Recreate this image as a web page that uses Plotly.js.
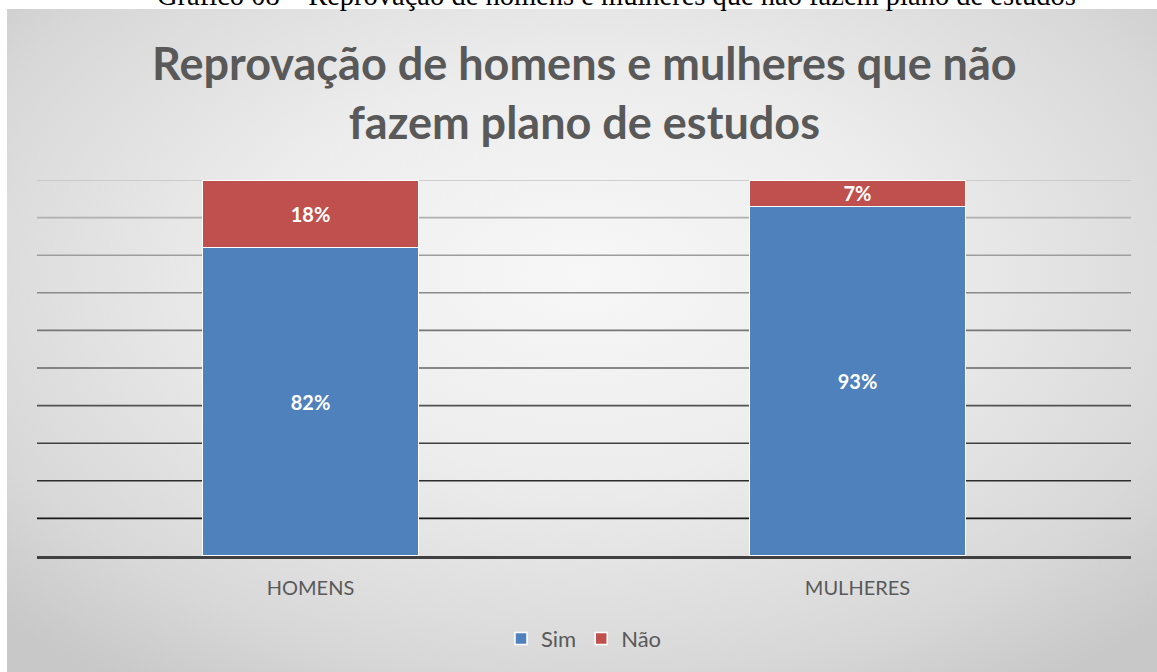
<!DOCTYPE html>
<html><head><meta charset="utf-8">
<script src="https://cdn.plot.ly/plotly-3.0.1.min.js"></script>
<style>
html,body{margin:0;padding:0;background:#fff;overflow:hidden;}
#bg{position:absolute;left:7px;top:9px;width:1150px;height:663px;
background:radial-gradient(ellipse 70% 75% at 50% 40%, #f7f7f7 0%, #ededed 40%, #d8d8d8 80%, #c8c8c8 100%);}
#chart{position:absolute;left:0;top:0;width:1157px;height:672px;}
</style></head>
<body>
<div id="bg"></div>
<div id="chart"></div>
<script>
var categories = ['HOMENS', 'MULHERES'];
var simValues = [82, 93];
var naoValues = [18, 7];
var seriesNames = ['Sim', 'Não'];
var gridValues = [10, 20, 30, 40, 50, 60, 70, 80, 90, 100];
var captionText = 'Gráfico 08 – Reprovação de homens e mulheres que não fazem plano de estudos';
var titleText = 'Reprovação de homens e mulheres que não<br>fazem plano de estudos';

var font = 'Lato, "Open Sans", sans-serif';

function pct(a){ return a.map(function(v){ return v + '%'; }); }

var traces = [
  {type:'bar', name:seriesNames[0], x:categories, y:simValues, text:pct(simValues),
   marker:{color:'#4f81bd', line:{color:'#ffffff', width:1.5}},
   textposition:'inside', insidetextanchor:'middle', textangle:0, constraintext:'none',
   textfont:{color:'#ffffff', size:20, family:font, weight:'bold'}, hoverinfo:'skip'},
  {type:'bar', name:seriesNames[1], x:categories, y:naoValues, text:pct(naoValues),
   marker:{color:'#c0504d', line:{color:'#ffffff', width:1.5}},
   textposition:'inside', insidetextanchor:'middle', textangle:0, constraintext:'none',
   textfont:{color:'#ffffff', size:20, family:font, weight:'bold'}, hoverinfo:'skip'}
];

var shapes = gridValues.map(function(v, i){
  var t = i / (gridValues.length - 1);
  var g = Math.round(25 + t * 170);
  return {type:'line', xref:'paper', yref:'y', x0:0, x1:1, y0:v, y1:v, layer:'below',
          line:{color:'rgb('+g+','+g+','+g+')', width:1.6}};
});

var layout = {
  width:1157, height:672,
  paper_bgcolor:'rgba(0,0,0,0)', plot_bgcolor:'rgba(0,0,0,0)',
  margin:{l:37, r:26, t:180, b:114},
  barmode:'stack', bargap:0.605,
  xaxis:{showgrid:false, showline:true, linecolor:'#404040', linewidth:3, ticks:'',
         ticklabelstandoff:12,
         tickfont:{family:font, size:20, color:'#595959'}, fixedrange:true},
  yaxis:{range:[0,100], showgrid:false, zeroline:false, showticklabels:false, fixedrange:true},
  shapes:shapes,
  showlegend:true,
  legend:{orientation:'h', x:0.5, xanchor:'center', xref:'paper', y:-0.22, yanchor:'middle',
          font:{family:font, size:22, color:'#595959'}, bgcolor:'rgba(0,0,0,0)',
          traceorder:'normal'},
  annotations:[
    {text:titleText, xref:'paper', yref:'paper', x:0.5, y:1.233, xanchor:'center', yanchor:'middle',
     showarrow:false, font:{family:font, size:45, color:'#595959', weight:'bold'}},
    {text:captionText, xref:'paper', yref:'paper', x:0.530, y:1.443, xanchor:'center',
     yanchor:'bottom', showarrow:false,
     font:{family:'"Liberation Serif", "Times New Roman", serif', size:28.5, color:'#000000'}}]
};

Plotly.newPlot('chart', traces, layout, {displayModeBar:false, staticPlot:true});
</script>
</body></html>
